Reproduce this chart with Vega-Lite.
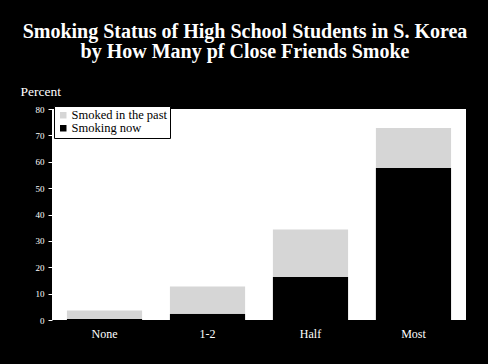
{
  "$schema": "https://vega.github.io/schema/vega-lite/v6.json",
  "autosize": "none",
  "width": 414,
  "height": 211,
  "padding": {"left": 52, "top": 109, "right": 22, "bottom": 44},
  "background": "#000000",
  "config": {
    "view": {"fill": "#ffffff", "stroke": null},
    "font": "Liberation Serif"
  },
  "title": {
    "text": ["Smoking Status of High School Students in S. Korea", "by How Many pf Close Friends Smoke"],
    "color": "#ffffff",
    "font": "Liberation Serif",
    "fontSize": 20,
    "fontWeight": "bold",
    "lineHeight": 20,
    "anchor": "middle",
    "dx": -14,
    "offset": 22
  },
  "data": {
    "values": [
      {"friends": "None", "status": "Smoking now", "percent": 0.4},
      {"friends": "None", "status": "Smoked in the past", "percent": 3.2},
      {"friends": "1-2", "status": "Smoking now", "percent": 2.4},
      {"friends": "1-2", "status": "Smoked in the past", "percent": 10.3},
      {"friends": "Half", "status": "Smoking now", "percent": 16.3},
      {"friends": "Half", "status": "Smoked in the past", "percent": 18.0},
      {"friends": "Most", "status": "Smoking now", "percent": 57.6},
      {"friends": "Most", "status": "Smoked in the past", "percent": 15.2}
    ]
  },
  "mark": {"type": "bar"},
  "encoding": {
    "x": {
      "field": "friends",
      "type": "nominal",
      "sort": ["None", "1-2", "Half", "Most"],
      "scale": {"paddingInner": 0.27, "paddingOuter": 0.145},
      "axis": {
        "title": null,
        "labelAngle": 0,
        "labelColor": "#ffffff",
        "labelFont": "Liberation Serif",
        "labelFontSize": 12,
        "labelPadding": 8,
        "ticks": false,
        "domain": false
      }
    },
    "y": {
      "field": "percent",
      "type": "quantitative",
      "stack": "zero",
      "scale": {"domain": [0, 80], "nice": false},
      "axis": {
        "title": "Percent",
        "titleAngle": 0,
        "titleColor": "#ffffff",
        "titleFont": "Liberation Serif",
        "titleFontSize": 13.5,
        "titleFontWeight": "normal",
        "titleAlign": "left",
        "titleBaseline": "alphabetic",
        "titleX": -32,
        "titleY": -14,
        "values": [0, 10, 20, 30, 40, 50, 60, 70, 80],
        "labelColor": "#ffffff",
        "labelFont": "Liberation Serif",
        "labelFontSize": 9,
        "labelPadding": 4,
        "tickColor": "#ffffff",
        "tickSize": 4,
        "domain": false,
        "grid": false
      }
    },
    "color": {
      "field": "status",
      "type": "nominal",
      "scale": {"domain": ["Smoked in the past", "Smoking now"], "range": ["#d6d6d6", "#000000"]},
      "legend": {
        "title": null,
        "orient": "none",
        "legendX": 2,
        "legendY": -3,
        "fillColor": "#ffffff",
        "strokeColor": "#000000",
        "padding": 3,
        "symbolType": "square",
        "symbolSize": 42,
        "symbolStrokeWidth": 0,
        "labelFont": "Liberation Serif",
        "labelFontSize": 12.5,
        "labelColor": "#000000",
        "labelOffset": 2,
        "rowPadding": 0
      }
    },
    "order": {"field": "status", "sort": "descending"}
  }
}
